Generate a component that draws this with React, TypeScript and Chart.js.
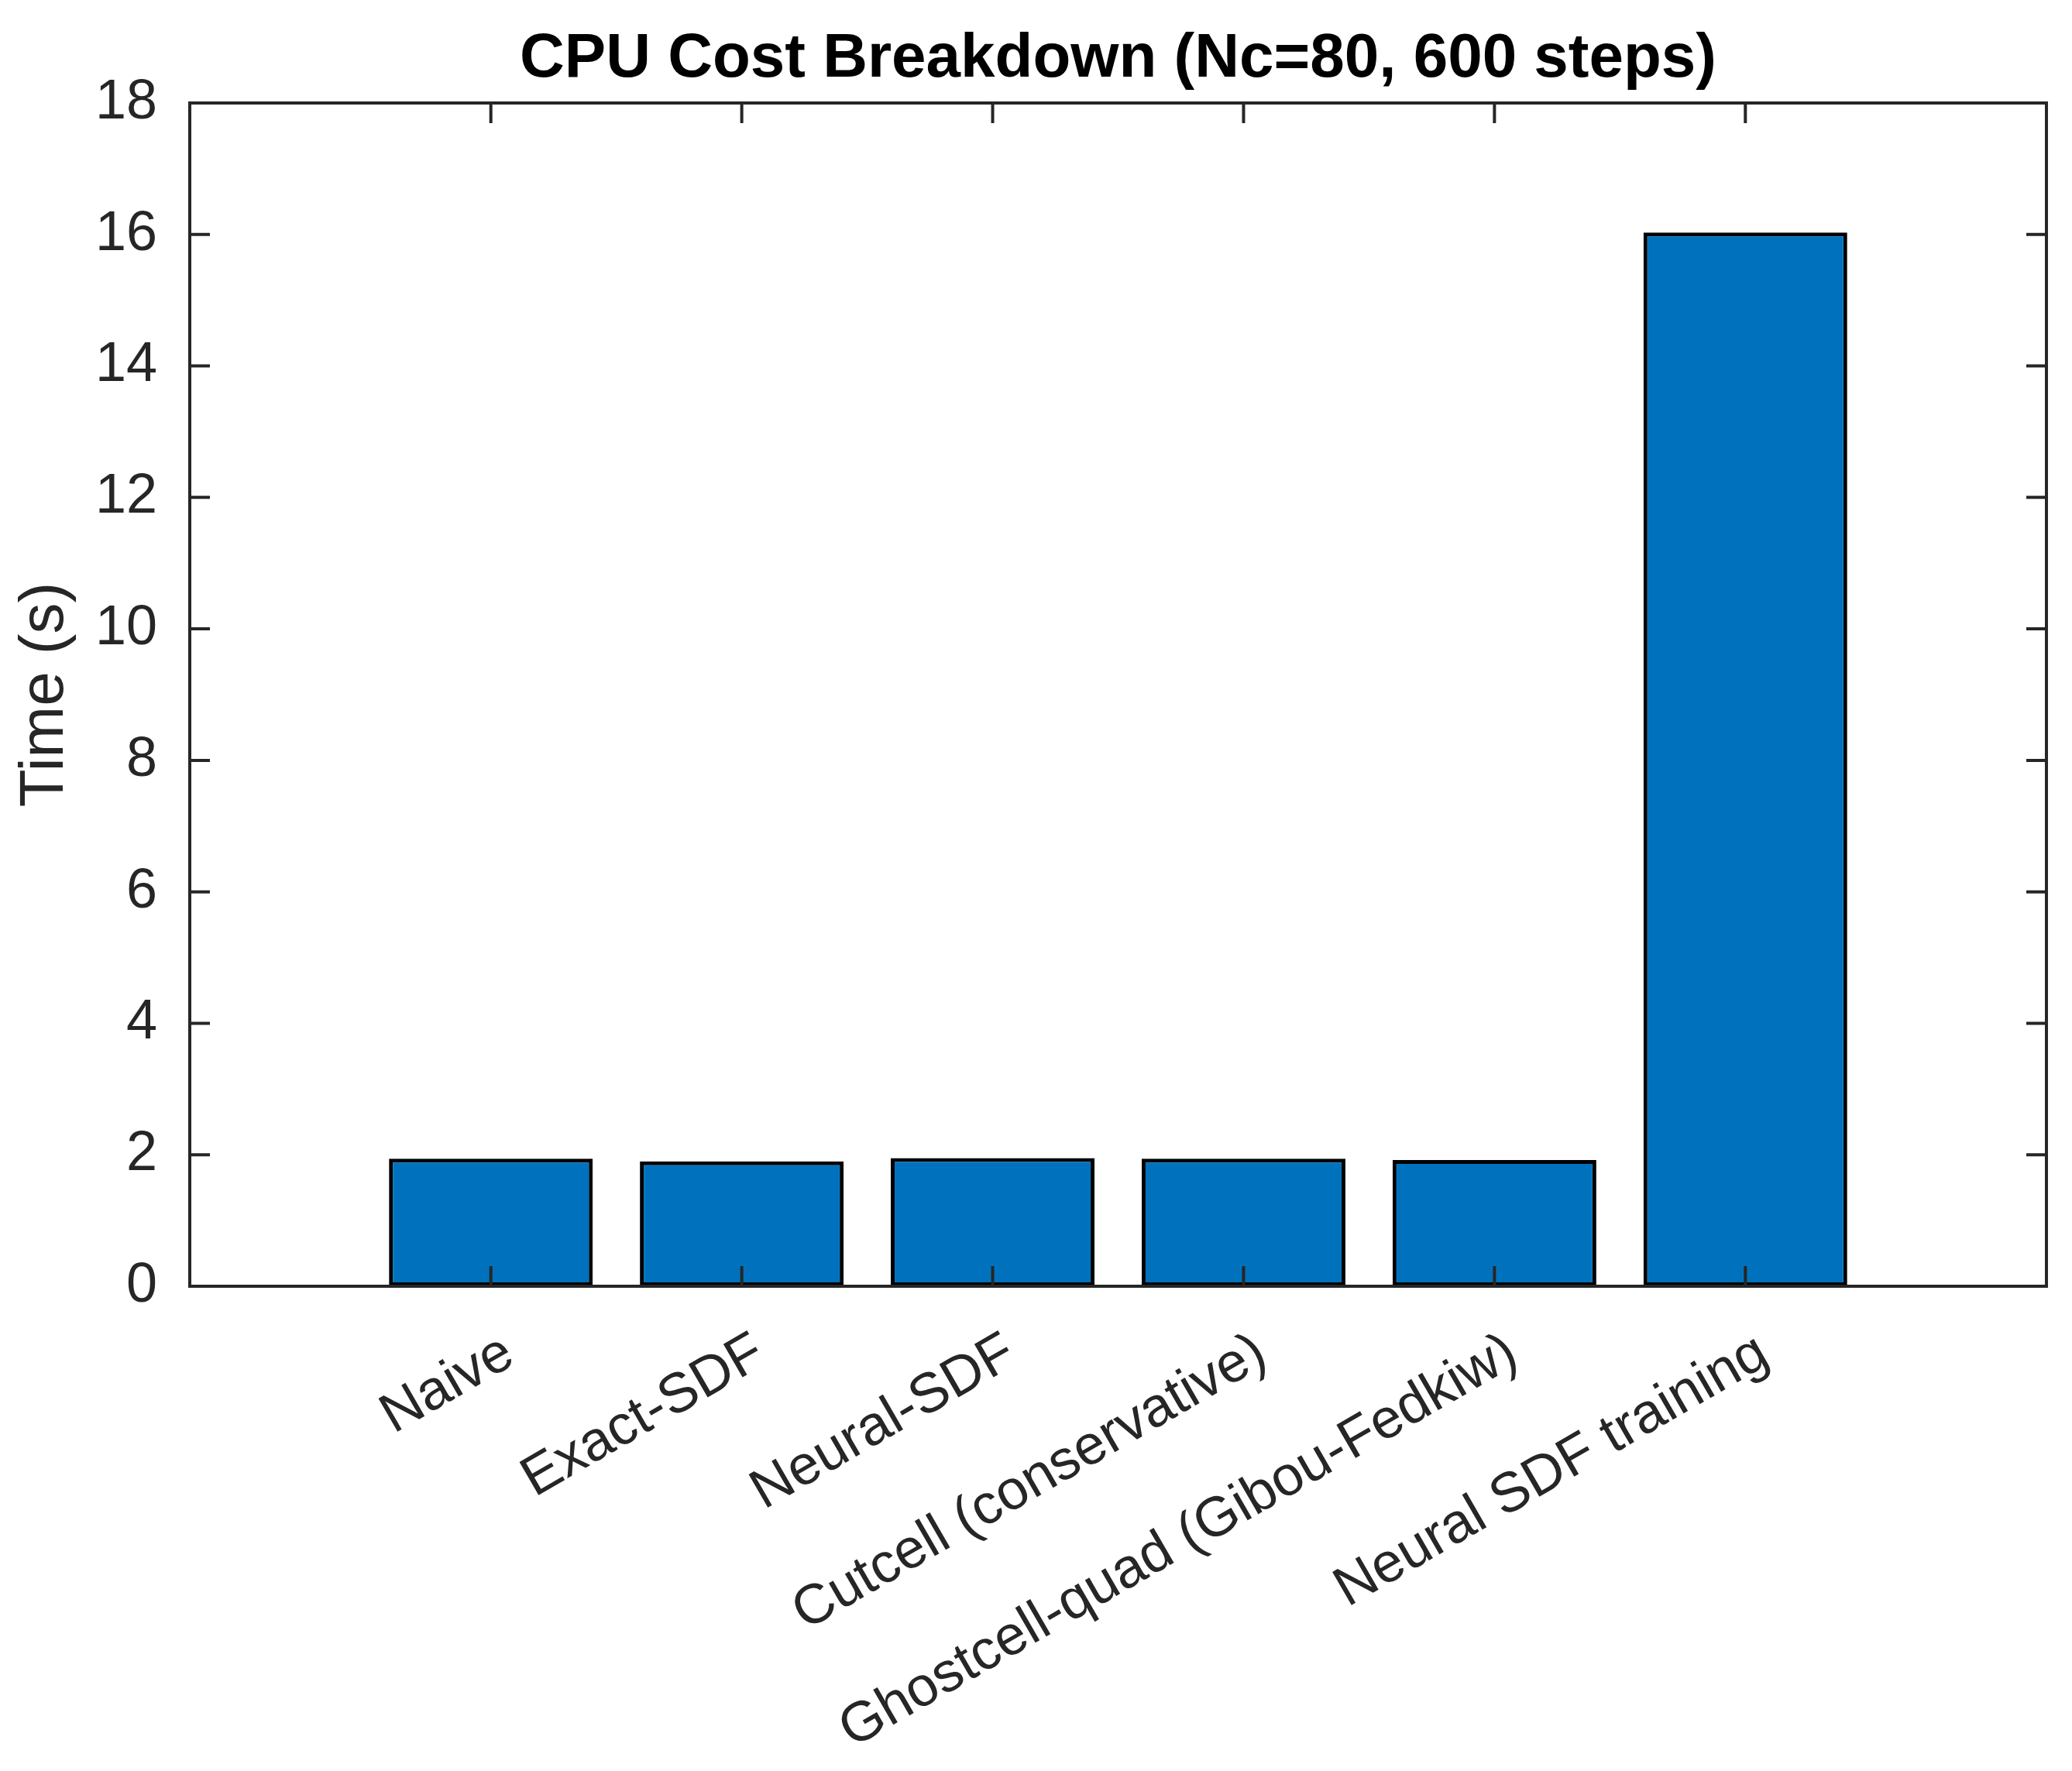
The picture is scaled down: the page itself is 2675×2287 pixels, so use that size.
import React, { useEffect, useRef } from 'react';
import { Chart, registerables } from 'chart.js';

Chart.register(...registerables);

const categories = [
  'Naive',
  'Exact-SDF',
  'Neural-SDF',
  'Cutcell (conservative)',
  'Ghostcell-quad (Gibou-Fedkiw)',
  'Neural SDF training',
];
const positions = [1, 2, 3, 4, 5, 6];
const timeValues = [1.94, 1.9, 1.95, 1.94, 1.92, 16.03];
const yTicks = [0, 2, 4, 6, 8, 10, 12, 14, 16, 18];
const titleText = 'CPU Cost Breakdown (Nc=80, 600 steps)';
const yLabel = 'Time (s)';

const W = 2675;
const H = 2287;
const FONT = '"Liberation Sans", Arial, Helvetica, sans-serif';
const AXIS_COLOR = '#262626';

const boxPlugin = {
  id: 'matlabBox',
  afterDatasetsDraw(chart: any) {
    const { ctx, chartArea } = chart;
    const { left, right, top, bottom } = chartArea;
    const xs = chart.scales.x;
    const ys = chart.scales.y;
    const tl = 26;
    ctx.save();
    ctx.strokeStyle = AXIS_COLOR;
    ctx.lineWidth = 4;
    ctx.lineCap = 'butt';
    ctx.beginPath();
    for (const v of yTicks) {
      const py = ys.getPixelForValue(v);
      ctx.moveTo(left, py);
      ctx.lineTo(left + tl, py);
      ctx.moveTo(right, py);
      ctx.lineTo(right - tl, py);
    }
    for (const v of positions) {
      const px = xs.getPixelForValue(v);
      ctx.moveTo(px, bottom);
      ctx.lineTo(px, bottom - tl);
      ctx.moveTo(px, top);
      ctx.lineTo(px, top + tl);
    }
    ctx.stroke();
    ctx.beginPath();
    ctx.rect(left, top, right - left, bottom - top);
    ctx.stroke();
    ctx.restore();
  },
  afterDraw(chart: any) {
    const { ctx, chartArea } = chart;
    ctx.save();
    ctx.fillStyle = '#000000';
    ctx.font = `bold 80px ${FONT}`;
    ctx.textAlign = 'center';
    ctx.textBaseline = 'alphabetic';
    ctx.fillText(titleText, (chartArea.left + chartArea.right) / 2, 99);
    ctx.restore();
  },
};

export default function App() {
  const ref = useRef<HTMLCanvasElement | null>(null);
  useEffect(() => {
    document.body.style.margin = '0';
    const canvas = ref.current;
    if (!canvas) return;
    const chart = new Chart(canvas, {
      type: 'bar',
      data: {
        datasets: [
          {
            data: positions.map((x, i) => ({ x, y: timeValues[i] })),
            backgroundColor: '#0072BD',
            borderColor: '#000000',
            borderWidth: 5,
            borderSkipped: false,
            barPercentage: 0.812,
            categoryPercentage: 1.0,
          },
        ],
      },
      options: {
        responsive: false,
        animation: false,
        devicePixelRatio: 1,
        layout: { padding: { left: 0, right: 33, top: 133, bottom: 0 } },
        plugins: {
          legend: { display: false },
          tooltip: { enabled: false },
          title: { display: false },
        },
        scales: {
          x: {
            type: 'linear',
            offset: false,
            min: -0.2,
            max: 7.2,
            afterBuildTicks: (s: any) => {
              s.ticks = positions.map((v) => ({ value: v }));
            },
            afterFit: (s: any) => {
              s.height = 626;
            },
            grid: { display: false, offset: false },
            border: { display: false },
            ticks: {
              autoSkip: false,
              minRotation: 30,
              maxRotation: 30,
              color: AXIS_COLOR,
              font: { family: FONT, size: 72 },
              padding: 36,
              labelOffset: 24,
              callback: (value: any) => {
                const i = positions.indexOf(Number(value));
                return i >= 0 ? categories[i] : '';
              },
            },
          },
          y: {
            min: 0,
            max: 18,
            afterBuildTicks: (s: any) => {
              s.ticks = yTicks.map((v) => ({ value: v }));
            },
            afterFit: (s: any) => {
              s.width = 245;
            },
            grid: { display: false },
            border: { display: false },
            ticks: {
              color: AXIS_COLOR,
              font: { family: FONT, size: 72 },
              padding: 34,
            },
            title: {
              display: true,
              text: yLabel,
              color: AXIS_COLOR,
              font: { family: FONT, size: 80 },
              padding: { top: 11, bottom: 0 },
            },
          },
        },
      },
      plugins: [boxPlugin],
    } as any);
    return () => chart.destroy();
  }, []);
  return (
    <div style={{ position: 'absolute', left: 0, top: 0, width: W, height: H, background: '#ffffff' }}>
      <canvas ref={ref} width={W} height={H} style={{ width: W, height: H, display: 'block' }} />
    </div>
  );
}
